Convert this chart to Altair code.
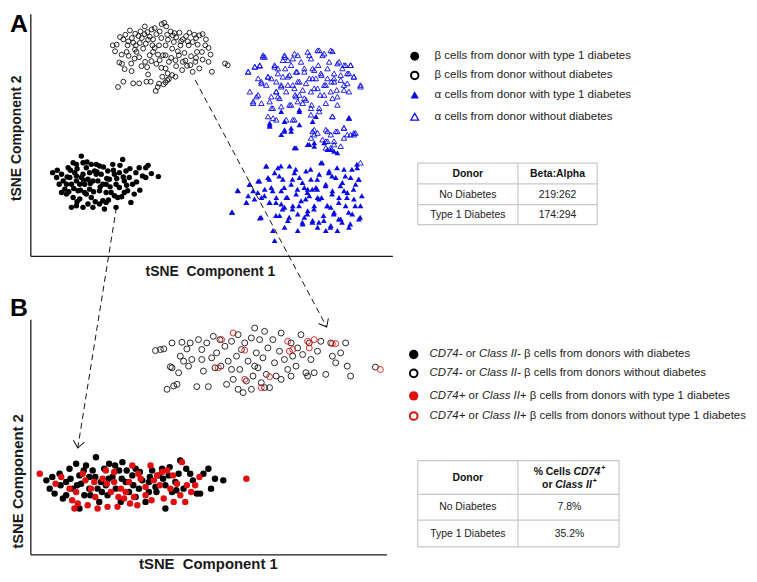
import altair as alt
import pandas as pd

# ---------------- data (tSNE units, arbitrary) ----------------
# Panel A
A_beta_t1d = [(6.6,25.3),(7.8,23.8),(8.6,21.8),(9.3,24.8),(9.8,22.8),(10.3,20.3),(10.8,18.8),(11.3,26.8),(11.8,23.8),(12.3,21.8),
    (12.8,28.3),(13.3,25.3),(13.8,22.8),(14.3,19.8),(14.8,17.3),(15.3,30.3),(15.8,24.8),(16.3,21.8),(16.8,26.8),(17.3,23.3),
    (17.8,20.3),(18.3,17.8),(18.8,14.8),(19.3,25.8),(19.8,27.8),(20.3,22.8),(20.8,19.8),(21.3,24.8),(21.8,16.8),(22.3,14.3),
    (22.8,21.8),(23.3,25.8),(23.8,23.3),(24.3,19.3),(24.8,27.8),(25.3,24.8),(25.8,21.8),(26.3,17.8),(26.8,25.3),(27.8,29.3),
    (28.3,22.8),(28.8,25.8),(29.3,19.8),(29.8,23.8),(30.8,21.8),(31.3,18.8),(30.3,16.3),(31.8,25.3),(32.8,26.8),(33.8,24.3),
    (34.8,23.8),(38.6,24.1),(12.3,14.8),(13.8,15.3),(15.8,14.8),(17.3,15.8),(20.8,15.8),(22.8,16.3),(18.3,27.8),(20.8,27.3),
    (15.8,28.3),(13.8,27.8),(25.8,14.8),(25.3,18.3),(16.3,19.3),(12.8,17.8),(9.3,19.3),(14.8,21.8),(18.8,22.8),(22.8,19.3),
    (26.8,20.8),(13.8,24.3),(19.8,24.8),(15.3,23.8),(17.8,25.3),(21.8,21.8),(16.8,18.8),(10.8,21.8),(28.3,19.3),(34.8,26.8),
    (11.0,24.0),(12.0,26.0),(13.0,20.5),(14.0,26.5),(15.0,20.0),(16.0,23.0),(17.0,28.5),(18.0,22.0),(19.0,19.5),(20.0,25.5),
    (21.0,21.0),(22.0,27.0),(23.0,23.5),(24.0,21.0),(25.0,26.0),(26.0,23.5),(27.0,27.5),(28.0,24.0),(29.0,21.5),(30.0,26.5),
    (32.0,22.5),(33.0,20.0),(35.5,27.5),(36.5,25.0),(19.5,16.5),(23.5,17.0),(14.0,16.5),(27.5,18.0),(11.5,19.5),(8.0,26.0)]

A_beta_nd = [(24.8,63.8),(26.0,64.0),(27.0,66.3),(28.0,65.6),(28.6,67.0),(30.0,68.3),(30.6,66.0),(31.0,64.6),(31.6,67.3),(32.6,66.6),
    (33.2,68.0),(33.6,66.0),(34.4,67.2),(35.3,67.8),(36.0,66.4),(36.6,68.6),(37.0,65.6),(38.0,67.2),(39.0,68.0),(39.6,70.2),
    (40.4,70.6),(41.3,67.0),(42.3,68.0),(43.0,66.8),(44.0,66.2),(45.0,67.6),(46.0,65.6),(47.0,66.6),(48.0,67.6),(49.0,64.8),
    (50.0,66.0),(51.0,66.8),(52.0,67.2),(53.0,65.6),(53.8,63.0),(54.4,61.0),(53.8,58.8),(54.8,55.8),(51.0,56.8),(49.0,55.8),
    (48.3,57.8),(46.8,59.2),(45.8,56.3),(43.8,54.3),(58.8,58.3),(59.6,57.8),(26.8,58.6),(27.6,58.2),(28.4,56.6),(29.0,61.8),
    (29.6,60.6),(30.4,58.3),(31.4,59.8),(32.0,61.8),(32.8,60.2),(34.0,62.8),(34.6,58.8),(35.2,57.2),(36.0,60.8),(37.0,61.8),
    (38.0,58.2),(39.0,59.3),(40.0,60.8),(40.8,56.8),(41.4,55.3),(41.8,53.6),(40.8,52.6),(40.2,52.0),(38.8,52.2),(37.8,50.0),
    (38.4,51.2),(35.0,52.8),(32.8,52.3),(31.0,52.3),(28.0,52.8),(26.4,51.2),(42.8,54.8),(43.8,59.3),(44.8,60.8),(46.0,58.8),
    (47.3,57.6),(49.8,58.8),(51.8,61.8),(52.8,63.8),(45.3,63.8),(42.8,62.8),(40.8,63.8),(38.8,63.8),(36.8,63.8),(34.8,64.3),
    (40.8,60.8),(41.8,58.8),(39.8,54.3),(41.3,53.3),(36.3,52.8),(29.3,63.8),(31.8,63.8),(50.3,61.8),(47.8,63.8),(43.3,64.8),
    (29.5,65.0),(31.5,62.5),(33.0,64.5),(35.5,65.5),(37.5,63.0),(39.5,66.0),(41.5,65.5),(43.5,67.5),(45.5,65.0),(47.5,65.0),
    (49.5,67.0),(44.5,62.0),(46.5,61.5),(48.5,60.5),(50.5,64.0),(38.5,61.0),(36.5,59.0),(33.5,57.5),(30.5,56.0),(35.5,55.0),
    (42.5,60.0),(44.0,57.5),(39.5,57.0),(27.5,61.0),(25.5,62.0),(52.0,59.5),(50.0,60.0),(34.5,69.5),(37.5,69.0),(41.0,69.5)]

A_alpha_nd = [(65.8,55.8),(66.3,49.8),(67.3,46.8),(67.8,57.3),(68.8,48.8),(69.3,57.8),(69.8,52.8),(70.3,60.8),(70.8,60.3),(71.3,51.8),
    (71.8,54.3),(72.3,46.8),(72.8,53.8),(73.3,44.8),(73.8,57.3),(74.3,49.8),(74.8,55.3),(75.3,47.8),(75.8,51.8),(76.3,59.3),
    (76.8,60.8),(77.0,56.8),(77.3,49.8),(77.8,54.3),(78.3,45.8),(78.8,57.8),(79.3,51.8),(79.8,61.3),(80.0,48.8),(80.6,55.8),
    (80.8,46.8),(81.3,52.8),(81.8,58.8),(82.3,50.3),(82.8,55.8),(83.3,47.3),(83.8,61.8),(84.3,53.8),(84.8,59.8),(85.0,45.8),
    (85.3,56.8),(85.8,50.8),(86.3,53.8),(86.8,62.3),(87.0,57.8),(87.6,48.8),(88.0,54.8),(88.3,60.8),(88.8,51.8),(89.3,46.3),
    (89.8,56.8),(90.3,58.8),(90.8,62.3),(91.0,52.8),(91.3,47.8),(91.8,55.3),(92.6,50.3),(92.8,45.8),(93.3,58.8),(93.8,53.3),
    (94.3,56.8),(94.8,50.3),(95.3,57.8),(95.8,52.3),(96.3,55.3),(96.8,57.8),(97.8,54.3),(99.8,51.3),(91.3,42.3),(96.3,41.8),
    (79.8,41.3),(91.8,53.8),(87.3,44.8),(84.8,42.8),(73.3,41.8),(85.8,36.8),(97.8,36.8),(94.8,38.8),(84.8,35.8),(86.8,37.3),
    (89.3,38.3),(90.8,36.8),(92.3,37.8),(94.8,35.8),(96.8,36.8),(98.3,37.3),(89.8,34.8),(91.8,33.8),(93.8,33.3),(90.8,32.8),
    (89.3,32.8),(85.3,37.8),(99.8,28.3),
    (65.8,55.8),(67.8,57.3),(69.3,57.6),(70.3,60.3),(73.8,57.8),(74.8,56.8),(76.8,60.3),(77.8,59.3),(79.3,59.8),(80.8,60.8),
    (84.3,60.8),(87.3,62.3),(88.8,61.3),(91.3,62.0),(92.8,58.3),(94.8,57.8),(96.8,57.8),(97.8,54.3),(99.8,51.8),(95.8,55.3),
    (93.8,54.8),(91.8,52.8),(89.8,53.8),(87.8,55.3),(85.8,56.3),(82.8,56.8),(80.3,55.8),(78.3,54.8),(76.3,54.3),(74.3,52.8),
    (71.8,54.3),(69.8,52.3),(68.3,48.3),(67.3,46.3),(69.8,46.3),(72.8,48.3),(74.3,49.8),(75.8,51.3),(77.8,51.8),(79.8,50.8),
    (81.3,48.8),(82.8,47.8),(84.8,49.8),(86.8,50.8),(88.8,48.8),(90.8,49.8),(92.8,48.3),(94.8,51.8),(96.3,49.8),(72.8,44.8),
    (75.8,45.3),(78.8,45.8),(82.3,46.3),(84.8,44.8),(87.3,43.8),(79.3,41.3),(77.3,41.3),(91.3,42.3),(94.8,38.8),(97.8,37.3),
    (95.8,36.8),(92.8,37.8),(89.8,37.8),(85.8,38.3),(89.3,34.8),(91.8,34.8),(88.3,35.3),(74.3,41.3),(71.8,42.3),(74.8,48.3),
    (80.3,48.3),(83.3,52.3),(85.3,53.8),(89.3,51.8),(80.8,52.8),(68.8,53.8)]

A_alpha_t1d = [(60.8,13.3),(62.6,20.0),(65.3,16.3),(65.8,18.3),(66.3,21.8),(67.3,19.8),(68.8,22.8),(69.3,11.6),(69.8,17.8),(70.8,20.3),
    (71.3,27.3),(71.8,23.8),(72.3,16.3),(72.8,20.8),(73.3,7.8),(73.8,25.3),(74.3,17.8),(74.8,26.8),(75.3,12.3),(75.8,19.8),
    (76.3,23.3),(76.8,14.8),(77.3,17.8),(77.8,10.8),(78.3,27.3),(78.8,21.8),(79.3,15.3),(79.8,25.3),(80.3,18.8),(80.8,12.8),
    (81.3,23.8),(81.8,16.8),(82.3,9.8),(82.8,20.8),(83.3,25.8),(83.8,13.8),(84.3,18.3),(84.8,23.3),(85.3,10.8),(85.8,15.3),
    (86.3,20.8),(86.8,8.8),(87.3,24.8),(87.8,28.3),(88.0,17.8),(88.6,12.3),(89.3,21.8),(89.8,15.3),(90.3,25.8),(90.8,9.3),
    (91.3,19.8),(91.8,13.3),(92.3,23.8),(92.8,7.8),(93.3,17.8),(93.8,11.3),(94.3,22.3),(94.8,26.3),(95.3,15.3),(95.8,19.3),
    (96.3,8.8),(96.8,23.8),(97.3,12.8),(97.8,17.3),(98.3,21.8),(98.8,26.8),(99.3,11.3),(99.8,15.3),(99.3,23.3),(73.8,4.8),
    (89.3,7.8),(76.8,8.8),(80.8,7.8),(83.8,20.3),(86.8,17.8),(82.8,11.8),(90.8,14.8),(75.8,15.8),(94.8,19.8),
    (72.3,39.8),(75.8,36.8),(78.8,38.8),(79.8,32.8),(83.8,33.8),(85.8,34.3),(88.8,34.3),(90.8,32.3),(92.8,31.3),(81.3,43.8),
    (96.3,41.8),(76.8,37.8),
    (72.3,40.3),(72.3,39.3),(78.8,37.8),(81.3,39.8),(76.8,38.3),(80.3,32.8),(84.3,33.8),(85.8,33.3),(89.8,32.3),(91.8,31.8),
    (75.8,43.8),(81.3,44.3),(86.3,42.3),(85.3,40.8),(76.8,40.8),
    (62.7,19.8),(61.0,13.3),(66.2,21.8),(69.2,22.8),(68.7,19.3),(69.7,11.8),(71.2,27.3),(72.2,23.3),(73.2,19.8),(74.2,16.3),
    (75.2,24.3),(75.7,27.3),(76.7,20.8),(77.7,17.8),(78.2,11.8),(79.2,23.3),(80.2,26.3),(80.7,20.3),(81.2,15.3),(82.2,22.3),
    (83.2,17.3),(83.7,12.8),(84.7,26.3),(85.2,20.3),(85.7,14.3),(86.7,23.3),(87.2,17.3),(88.2,28.3),(88.7,10.8),(89.2,21.3),
    (89.7,15.3),(90.2,25.3),(91.2,18.8),(91.7,12.8),(92.7,26.8),(93.2,16.3),(93.7,21.3),(94.2,10.3),(95.2,24.3),(95.7,17.8),
    (96.2,13.3),(97.2,26.3),(97.7,20.3),(98.2,15.3),(99.2,23.3),(99.7,11.8),(100.2,18.3),(98.7,27.8),(87.2,10.3),(90.7,8.8),
    (85.2,10.3),(79.2,14.3),(76.2,14.3),(72.2,16.3),(70.7,18.3),(67.7,17.3),(65.2,16.3),(82.2,10.3),(93.2,11.3),(96.7,9.8),
    (74.2,12.3),(83.7,19.3),(91.2,24.3),(86.7,20.3)]

# Panel B
B_neg_t1d = [(4.7,22.5),(5.7,20.0),(7.2,18.5),(8.7,24.5),(9.7,17.0),(10.7,22.0),(11.7,26.0),(12.7,20.0),(13.7,27.5),(14.7,24.0),
    (15.2,21.5),(16.2,18.0),(16.7,27.0),(17.7,23.5),(18.7,25.5),(19.7,29.5),(20.2,20.0),(21.2,22.0),(22.2,26.0),(23.2,18.0),
    (23.7,27.5),(24.7,23.5),(25.7,20.0),(26.7,25.5),(27.7,28.0),(28.7,22.0),(29.7,19.0),(30.7,24.0),(31.7,26.0),(32.7,20.0),
    (33.7,22.5),(34.7,16.0),(35.7,22.0),(36.7,25.5),(37.7,20.5),(38.7,24.0),(39.7,26.0),(40.7,21.0),(41.7,24.0),(42.7,19.0),
    (43.7,22.0),(45.2,28.5),(46.2,20.0),(48.2,24.5),(50.2,18.5),(51.2,18.5),(52.2,24.5),(53.7,26.0),(55.7,23.0),(58.2,22.5),
    (40.7,14.0),(31.7,17.5),(14.7,14.0),(20.7,16.0),(27.2,16.0),(10.7,18.0),(17.7,20.0),(22.7,21.0),(35.7,19.0),(44.7,24.5),
    (6.5,23.5),(9.0,21.0),(12.0,23.0),(14.0,21.0),(16.0,25.5),(18.0,18.0),(19.5,23.5),(21.5,19.0),(23.5,23.0),(25.5,27.0),
    (27.5,23.0),(29.0,25.5),(31.0,21.0),(33.0,25.0),(36.0,23.5),(38.0,19.0),(40.0,23.0),(42.0,26.5),(44.0,19.5),(47.0,26.0),
    (49.0,22.5),(54.5,20.0)]

B_neg_nd = [(37.7,61.7),(39.2,62.0),(40.2,62.2),(41.2,50.0),(42.2,56.8),(42.7,64.0),(43.2,51.0),(44.2,51.5),(44.7,55.0),(45.2,60.0),
    (45.7,64.2),(46.2,58.5),(47.2,62.2),(47.7,57.0),(48.2,64.0),(48.7,59.0),(50.2,50.8),(50.7,65.0),(51.7,62.0),(52.2,55.5),
    (53.2,64.0),(53.7,50.8),(54.7,59.5),(55.2,66.0),(56.2,61.0),(57.2,65.0),(57.5,57.0),(58.7,63.0),(59.2,51.5),(59.7,58.5),
    (60.7,64.5),(61.2,53.0),(62.2,60.0),(62.7,66.5),(63.2,56.0),(63.7,62.0),(64.2,49.0),(64.7,64.0),(65.2,52.5),(65.7,58.5),
    (66.7,65.5),(67.2,54.0),(67.7,68.5),(68.2,61.0),(68.7,56.5),(69.2,65.0),(69.7,52.0),(70.2,59.5),(70.7,67.5),(71.2,54.5),
    (71.7,62.5),(72.2,50.5),(73.2,65.0),(73.7,58.0),(74.2,54.0),(75.2,61.5),(75.7,67.0),(76.7,59.0),(77.7,56.0),(78.7,64.0),
    (79.2,60.0),(80.2,57.0),(80.7,62.5),(81.7,66.5),(82.2,60.5),(83.2,55.0),(84.2,64.0),(84.7,59.0),(85.7,55.0),(86.7,61.5),
    (87.7,64.5),(89.2,54.5),(90.7,64.0),(91.2,60.0),(92.2,58.0),(93.7,61.0),(95.2,64.0),(95.7,57.0),(96.7,54.0),(104.2,56.7),
    (62.7,50.0),(66.7,50.0),(70.7,50.5),(55.7,56.5),(60.7,56.0),(51.7,59.0),(42.7,56.5),(78.7,54.0),(83.7,54.0),(67.7,57.0),
    (75.7,53.0)]

B_pos_t1d = [(2.7,24.5),(9.2,23.5),(11.7,20.0),(13.2,14.0),(14.2,15.5),(15.7,24.5),(17.2,15.0),(18.2,20.0),(20.2,14.0),(21.7,23.0),
    (22.7,25.5),(23.2,14.5),(24.2,19.0),(25.2,22.0),(26.2,14.5),(27.2,20.0),(28.2,17.0),(29.7,22.0),(30.7,27.0),(31.2,17.5),
    (32.2,15.0),(33.2,23.0),(34.7,18.0),(36.2,27.0),(37.2,22.5),(38.2,24.0),(39.7,25.0),(40.2,17.0),(41.2,25.5),(42.2,20.0),
    (43.2,16.0),(44.2,21.5),(45.2,18.0),(45.7,28.0),(47.2,21.0),(46.7,16.0),(49.7,21.0),(65.2,23.0),(25.2,25.0),(19.2,22.0),
    (34.7,20.5),(13.7,19.0),(28.7,19.0),
    (7.5,21.5),(12.5,16.5),(16.5,22.5),(19.5,17.5),(23.0,21.5),(26.5,17.5),(30.0,15.5),(32.5,24.5),(36.5,16.5),(39.0,21.0),
    (43.0,24.0),(48.5,19.0),(51.0,23.5)]

B_pos_nd = [(61.2,67.0),(57.7,65.0),(64.7,61.8),(56.7,56.5),(64.7,53.0),(69.7,50.5),(72.2,53.8),(78.2,61.5),(77.7,64.5),(83.7,64.5),
    (85.7,65.0),(84.2,62.5),(91.2,63.8),(92.2,63.8),(105.7,56.0),(79.2,62.0)]

# Texts
PANEL_LETTERS = ["A", "B"]
X_TITLE = "tSNE\u00a0\u00a0Component 1"
Y_TITLE = "tSNE Component 2"
LEGEND_A = ["\u03b2 cells from donor with type 1 diabetes", "\u03b2 cells from donor without diabetes",
            "\u03b1 cells from donor with type 1 diabetes", "\u03b1 cells from donor without diabetes"]
LEGEND_B = [["CD74-", "or", "Class II-", "\u03b2 cells from donors with diabetes"],
            ["CD74-", "or", "Class II-", "\u03b2 cells from donors without diabetes"],
            ["CD74+", "or", "Class II+", "\u03b2 cells from donors with type 1 diabetes"],
            ["CD74+", "or", "Class II+", "\u03b2 cells from donors without type 1 diabetes"]]
LEGEND_B_ITALIC = [True, False, True, False]
TABLE_A_HEAD = ["Donor", "Beta:Alpha"]
TABLE_A_ROWS = [["No Diabetes", "219:262"], ["Type 1 Diabetes", "174:294"]]
TABLE_B_HEAD_1 = [("% Cells", "b"), ("CD74", "bi"), ("+", "sup")]
TABLE_B_HEAD_2 = [("or", "b"), ("Class II", "bi"), ("+", "sup")]
TABLE_B_ROWS = [["No Diabetes", "7.8%"], ["Type 1 Diabetes", "35.2%"]]

# ---------------- layout ----------------
W, H, OFF = 741, 566, 8
FONT = "Liberation Sans"
BLUE, RED, INK = "#0a0ae8", "#e01010", "#111111"

REG = {' ':278,'a':556,'b':556,'c':500,'d':556,'e':556,'f':278,'h':556,'i':222,'l':222,'m':833,'n':556,'o':556,
       'p':556,'r':333,'s':500,'t':278,'u':556,'w':722,'y':500,'C':722,'D':722,'I':278,'1':556,'4':556,'7':556,
       '-':333,'+':584,'\u03b2':575}
BOLD = {' ':278,'%':889,'C':722,'e':556,'l':278,'s':556,'D':722,'7':556,'4':556,'o':611,'r':389,'a':556,'I':278,'+':584}


def tw(s, size, table):
    return sum(table.get(c, 556) for c in s) * size / 1000.0


PX = alt.Scale(domain=[OFF, OFF + W], range=[0, W], nice=False, zero=False)
PY = alt.Scale(domain=[OFF, OFF + H], range=[0, H], nice=False, zero=False)

AX = alt.Scale(domain=[0, 109.6], range=[23, 388], nice=False, zero=False)
AY = alt.Scale(domain=[0, 73.2], range=[248, 4], nice=False, zero=False)
BX = alt.Scale(domain=[0, 107.7], range=[23, 382], nice=False, zero=False)
BY = alt.Scale(domain=[0, 71.0], range=[549, 312], nice=False, zero=False)


def pts(pairs, sx, sy, **mk):
    df = pd.DataFrame(pairs, columns=["x", "y"])
    return alt.Chart(df).mark_point(opacity=1, **mk).encode(
        x=alt.X("x:Q", scale=sx, axis=None), y=alt.Y("y:Q", scale=sy, axis=None))


def axis_lines(xmax, ymax, sx, sy):
    df = pd.DataFrame({"x": [0, 0], "y": [0, 0], "x2": [xmax, 0], "y2": [0, ymax]})
    return alt.Chart(df).mark_rule(color="#1a1a1a", strokeWidth=1.3).encode(
        x=alt.X("x:Q", scale=sx, axis=None), y=alt.Y("y:Q", scale=sy, axis=None), x2="x2:Q", y2="y2:Q")


def texts(rows, weight="normal", style="normal", align="center", baseline="middle", color="#222222"):
    df = pd.DataFrame(rows, columns=["x", "y", "t", "s", "a"])
    return alt.Chart(df).mark_text(font=FONT, fontWeight=weight, fontStyle=style, align=align,
                                   baseline=baseline, color=color).encode(
        x=alt.X("x:Q", scale=PX, axis=None), y=alt.Y("y:Q", scale=PY, axis=None),
        text="t:N", size=alt.Size("s:Q", scale=None), angle=alt.Angle("a:Q", scale=None))


def rules(segs, **mk):
    df = pd.DataFrame(segs, columns=["x", "y", "x2", "y2"])
    return alt.Chart(df).mark_rule(**mk).encode(
        x=alt.X("x:Q", scale=PX, axis=None), y=alt.Y("y:Q", scale=PY, axis=None), x2="x2:Q", y2="y2:Q")


# Panel A
panelA = alt.layer(
    axis_lines(109.6, 73.2, AX, AY),
    pts(A_beta_nd, AX, AY, shape="circle", filled=False, color=INK, size=24, strokeWidth=0.9),
    pts(A_alpha_nd, AX, AY, shape="triangle-up", filled=False, color=BLUE, size=30, strokeWidth=0.9),
    pts(A_alpha_t1d, AX, AY, shape="triangle-up", filled=True, color=BLUE, size=34),
    pts(A_beta_t1d, AX, AY, shape="circle", filled=True, color="#000000", size=30),
)

# Panel B
panelB = alt.layer(
    axis_lines(107.7, 71.0, BX, BY),
    pts(B_neg_nd, BX, BY, shape="circle", filled=False, color=INK, size=36, strokeWidth=0.9),
    pts(B_pos_nd, BX, BY, shape="circle", filled=False, color=RED, size=36, strokeWidth=0.9),
    pts(B_neg_t1d, BX, BY, shape="circle", filled=True, color="#000000", size=42),
    pts(B_pos_t1d, BX, BY, shape="circle", filled=True, color=RED, size=42),
)

layers = []

# dashed connectors with open arrowheads
ARROWS = [(117.3, 206.7, 78.3, 449.3, 9.1), (196.7, 78.3, 329.3, 327.3, 331.9)]
layers.append(rules([a[:4] for a in ARROWS], color="#111111", strokeWidth=1, strokeDash=[6, 4]))
ah = pd.DataFrame([(a[2], a[3], a[4]) for a in ARROWS], columns=["x", "y", "ang"])
layers.append(alt.Chart(ah).mark_point(shape="M -0.8 -1 L 0 0 L 0.8 -1", filled=False, color="#111111",
                                      size=196, strokeWidth=1, opacity=1).encode(
    x=alt.X("x:Q", scale=PX, axis=None), y=alt.Y("y:Q", scale=PY, axis=None),
    angle=alt.Angle("ang:Q", scale=None)))

# panel letters
layers.append(texts([(10, 30, PANEL_LETTERS[0], 25, 0), (10, 316, PANEL_LETTERS[1], 25, 0)],
                    weight="bold", align="left", baseline="alphabetic", color="#000000"))
# axis titles
layers.append(texts([(212, 276, X_TITLE, 14, 0), (210, 571, X_TITLE, 15, 0)],
                    weight="bold", baseline="alphabetic", color="#1a1a1a"))
layers.append(texts([(17.5, 137, Y_TITLE, 14, 270), (18, 483, Y_TITLE, 15, 270)],
                    weight="bold", color="#1a1a1a"))

# legend A
LA_Y = [54.3, 73.7, 93.3, 115.3]
LA_MX, LA_TX = 418, 438
layers.append(texts([(LA_TX, y, t, 11.6, 0) for y, t in zip(LA_Y, LEGEND_A)], align="left"))


def marker(x, y, **mk):
    df = pd.DataFrame({"x": [x], "y": [y]})
    return alt.Chart(df).mark_point(opacity=1, **mk).encode(
        x=alt.X("x:Q", scale=PX, axis=None), y=alt.Y("y:Q", scale=PY, axis=None))


layers += [
    marker(LA_MX, LA_Y[0], shape="circle", filled=True, color="#000000", size=80),
    marker(LA_MX, LA_Y[1], shape="circle", filled=False, color="#000000", size=56, strokeWidth=2),
    marker(LA_MX, LA_Y[2], shape="triangle-up", filled=True, color=BLUE, size=70),
    marker(LA_MX, LA_Y[3], shape="triangle-up", filled=False, color=BLUE, size=60, strokeWidth=1.3),
]

# legend B (mixed italic / roman segments)
LB_Y = [355, 374, 396.7, 417]
LB_MX, LB_TX, LB_FS = 417, 433, 11.5
seg_rows = {True: [], False: []}
for y, segs in zip(LB_Y, LEGEND_B):
    x = LB_TX
    for i, (s, it) in enumerate(zip(segs, LEGEND_B_ITALIC)):
        if i > 0:
            x += tw(" ", LB_FS, REG)
        seg_rows[it].append((x, y, s, LB_FS, 0))
        x += tw(s, LB_FS, REG)
layers.append(texts(seg_rows[False], align="left"))
layers.append(texts(seg_rows[True], align="left", style="italic"))
layers += [
    marker(LB_MX, LB_Y[0], shape="circle", filled=True, color="#000000", size=90),
    marker(LB_MX, LB_Y[1], shape="circle", filled=False, color="#000000", size=60, strokeWidth=2),
    marker(LB_MX, LB_Y[2], shape="circle", filled=True, color=RED, size=90),
    marker(LB_MX, LB_Y[3], shape="circle", filled=False, color=RED, size=60, strokeWidth=2),
]

# tables
GRID = "#c8c8c8"
TA_X = [421, 522, 602]
TA_Y = [162, 183, 204, 224]
TB_X = [421, 522, 624]
TB_Y = [462, 496, 522, 549]
tab_segs = []
for xs, ys in ((TA_X, TA_Y), (TB_X, TB_Y)):
    tab_segs += [(x, ys[0], x, ys[-1]) for x in xs]
    tab_segs += [(xs[0], y, xs[-1], y) for y in ys]
layers.append(rules(tab_segs, color=GRID, strokeWidth=1.2))

TFS = 10.5
cA = [(TA_X[0] + TA_X[1]) / 2, (TA_X[1] + TA_X[2]) / 2]
cB = [(TB_X[0] + TB_X[1]) / 2, (TB_X[1] + TB_X[2]) / 2 + 1]
rowsA = [172.7, 193.8, 214.3]
rowsB = [509, 536]
reg_rows = []
bold_rows = [(cA[0], rowsA[0], TABLE_A_HEAD[0], TFS, 0), (cA[1], rowsA[0], TABLE_A_HEAD[1], TFS, 0),
             (cB[0], 479.5, "Donor", TFS, 0)]
for r, (a, b) in zip(rowsA[1:], TABLE_A_ROWS):
    reg_rows += [(cA[0], r, a, TFS, 0), (cA[1], r, b, TFS, 0)]
for r, (a, b) in zip(rowsB, TABLE_B_ROWS):
    reg_rows += [(cB[0], r, a, TFS, 0), (cB[1], r, b, TFS, 0)]
layers.append(texts(reg_rows))
layers.append(texts(bold_rows, weight="bold", color="#111111"))

# table B header with italic names and superscript plus signs
hb, hbi, hsup = [], [], []
SUP_FS = 7
for y, segs in ((473.3, TABLE_B_HEAD_1), (486.3, TABLE_B_HEAD_2)):
    widths = []
    for s, kind in segs:
        widths.append(tw(s, SUP_FS, BOLD) + 1 if kind == "sup" else tw(s, TFS, BOLD))
    total = widths[0] + tw(" ", TFS, BOLD) + widths[1] + widths[2]
    x = cB[1] - total / 2
    hb.append((x, y, segs[0][0], TFS, 0))
    x += widths[0] + tw(" ", TFS, BOLD)
    hbi.append((x, y, segs[1][0], TFS, 0))
    x += widths[1] + 1
    hsup.append((x, y - 3.5, segs[2][0], SUP_FS, 0))
layers.append(texts(hb, weight="bold", align="left", color="#111111"))
layers.append(texts(hbi, weight="bold", style="italic", align="left", color="#111111"))
layers.append(texts(hsup, weight="bold", align="left", color="#111111"))

layout = alt.layer(*layers)

chart = alt.layer(panelA, panelB, layout).resolve_scale(
    x="independent", y="independent"
).properties(
    width=W, height=H,
    background="white",
    padding={"left": 0, "top": 0, "right": 6, "bottom": 0},
    autosize=alt.AutoSizeParams(type="none"),
).configure_view(stroke=None, strokeWidth=0)

chart.save("out.html", embed_options={"renderer": "svg", "actions": False})
